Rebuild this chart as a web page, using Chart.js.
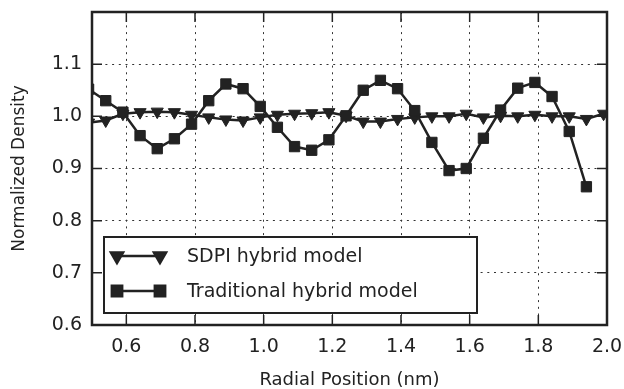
<!DOCTYPE html>
<html>
<head>
<meta charset="utf-8">
<script src="https://cdn.jsdelivr.net/npm/chart.js@4/dist/chart.umd.min.js"></script>
<style>
  html, body { margin: 0; padding: 0; background: #fff; }
  #wrap { width: 624px; height: 389px; }
</style>
</head>
<body>
<div id="wrap"><canvas id="myChart" width="624" height="389"></canvas></div>
<script>
// radial positions (nm), same grid for both curves
var positions = [0.49, 0.54, 0.59, 0.64, 0.69, 0.74, 0.79, 0.84, 0.89, 0.94,
  0.99, 1.04, 1.09, 1.14, 1.19, 1.24, 1.29, 1.34, 1.39, 1.44,
  1.49, 1.54, 1.59, 1.64, 1.69, 1.74, 1.79, 1.84, 1.89, 1.94, 1.99];

// SDPI hybrid model (triangles)
var sdpiDensity = [0.988, 0.992, 1.005, 1.008, 1.009, 1.008, 1.003, 0.998, 0.994, 0.992,
  0.998, 1.003, 1.005, 1.006, 1.008, 1.001, 0.990, 0.990, 0.995, 0.998,
  1.000, 1.000, 1.005, 0.998, 1.001, 1.000, 1.003, 1.000, 1.000, 0.995, 1.005];

// traditional hybrid model (squares), stops at 1.94
var traditionalDensity = [1.052, 1.030, 1.008, 0.963, 0.938, 0.957, 0.985, 1.030, 1.062, 1.053,
  1.019, 0.979, 0.942, 0.935, 0.955, 1.001, 1.050, 1.069, 1.053, 1.011,
  0.950, 0.896, 0.900, 0.958, 1.012, 1.054, 1.065, 1.038, 0.971, 0.865];

var seriesNames = ["SDPI hybrid model", "Traditional hybrid model"];

// tick values
var xTicks = [0.6, 0.8, 1.0, 1.2, 1.4, 1.6, 1.8, 2.0];
var yTicks = [0.6, 0.7, 0.8, 0.9, 1.0, 1.1];

var ink = "#222222";
var fontFamily = "'DejaVu Sans', sans-serif";

function toPoints(ys) {
  return ys.map(function (y, i) {
    return { x: positions[i], y: y };
  });
}

// keep the plot box where the reference has it
function noLabelPadding(scale) {
  scale.paddingLeft = 0;
  scale.paddingRight = 0;
  scale.paddingTop = 0;
  scale.paddingBottom = 0;
}

// frame, inward tick marks and a matplotlib style legend
var framePlugin = {
  id: "frame",
  afterDraw: function (chart) {
    var ctx = chart.ctx;
    var a = chart.chartArea;
    var xs = chart.scales.x;
    var ys = chart.scales.y;
    ctx.save();

    // inward ticks
    ctx.strokeStyle = ink;
    ctx.lineWidth = 1.5;
    ctx.beginPath();
    xTicks.forEach(function (v) {
      var px = xs.getPixelForValue(v);
      ctx.moveTo(px, a.bottom);
      ctx.lineTo(px, a.bottom - 10);
      ctx.moveTo(px, a.top);
      ctx.lineTo(px, a.top + 10);
    });
    yTicks.forEach(function (v) {
      var py = ys.getPixelForValue(v);
      ctx.moveTo(a.left, py);
      ctx.lineTo(a.left + 10, py);
      ctx.moveTo(a.right, py);
      ctx.lineTo(a.right - 10, py);
    });
    ctx.stroke();

    // frame
    ctx.lineWidth = 2.5;
    ctx.strokeRect(a.left, a.top, a.right - a.left, a.bottom - a.top);

    // legend box
    var box = { x: 104, y: 237, w: 373, h: 76 };
    ctx.fillStyle = "#ffffff";
    ctx.fillRect(box.x, box.y, box.w, box.h);
    ctx.lineWidth = 2;
    ctx.strokeStyle = ink;
    ctx.strokeRect(box.x, box.y, box.w, box.h);

    ctx.font = "19px " + fontFamily;
    ctx.textBaseline = "middle";
    ctx.textAlign = "left";
    chart.data.datasets.forEach(function (ds, i) {
      var cy = box.y + 19 + i * 35;
      var x1 = box.x + 13, x2 = box.x + 56;
      ctx.strokeStyle = ink;
      ctx.lineWidth = 2.5;
      ctx.beginPath();
      ctx.moveTo(x1, cy);
      ctx.lineTo(x2, cy);
      ctx.stroke();
      ctx.fillStyle = ink;
      [x1, x2].forEach(function (mx) {
        Chart.helpers.drawPoint(ctx, {
          pointStyle: ds.pointStyle,
          rotation: ds.pointRotation || 0,
          radius: ds.pointRadius,
          borderWidth: 1
        }, mx, cy);
        ctx.fill();
      });
      ctx.fillStyle = ink;
      ctx.fillText(ds.label, box.x + 83, cy + 1);
    });
    ctx.restore();
  }
};

var ctx = document.getElementById("myChart").getContext("2d");
var myChart = new Chart(ctx, {
  type: "line",
  data: {
    datasets: [
      {
        label: seriesNames[0],
        data: toPoints(sdpiDensity),
        borderColor: ink,
        backgroundColor: ink,
        borderWidth: 2.5,
        pointStyle: "triangle",
        pointRotation: 180,
        pointRadius: 7,
        pointBorderWidth: 1,
        pointBackgroundColor: ink,
        pointBorderColor: ink,
        tension: 0,
        clip: 0,
        order: 1
      },
      {
        label: seriesNames[1],
        data: toPoints(traditionalDensity),
        borderColor: ink,
        backgroundColor: ink,
        borderWidth: 2.5,
        pointStyle: "rect",
        pointRadius: 7.3,
        pointBorderWidth: 1,
        pointBackgroundColor: ink,
        pointBorderColor: ink,
        tension: 0,
        clip: 0,
        order: 0
      }
    ]
  },
  options: {
    responsive: false,
    animation: false,
    devicePixelRatio: 1,
    layout: { padding: { top: 12, right: 17, left: 0, bottom: 0 } },
    plugins: {
      legend: { display: false },
      tooltip: { enabled: false }
    },
    scales: {
      x: {
        type: "linear",
        min: 0.5,
        max: 2.0,
        afterBuildTicks: function (scale) {
          scale.ticks = xTicks.map(function (v) { return { value: v }; });
        },
        afterFit: function (scale) {
          scale.height = 64;
          noLabelPadding(scale);
        },
        border: { display: false, dash: [2, 4.7] },
        grid: { color: "#333333", lineWidth: 1, drawTicks: false },
        ticks: {
          autoSkip: false,
          maxRotation: 0,
          padding: 11,
          color: ink,
          font: { family: fontFamily, size: 19 },
          callback: function (v) { return v.toFixed(1); }
        },
        title: {
          display: true,
          text: "Radial Position (nm)",
          color: ink,
          font: { family: fontFamily, size: 18 },
          padding: { top: 0, bottom: -2 }
        }
      },
      y: {
        type: "linear",
        min: 0.6,
        max: 1.2,
        afterBuildTicks: function (scale) {
          scale.ticks = yTicks.map(function (v) { return { value: v }; });
        },
        afterFit: function (scale) {
          scale.width = 92;
          noLabelPadding(scale);
        },
        border: { display: false, dash: [2, 4.7] },
        grid: { color: "#333333", lineWidth: 1, drawTicks: false },
        ticks: {
          autoSkip: false,
          padding: 10,
          color: ink,
          font: { family: fontFamily, size: 19 },
          callback: function (v) { return v.toFixed(1); }
        },
        title: {
          display: true,
          text: "Normalized Density",
          color: ink,
          font: { family: fontFamily, size: 17 },
          padding: { top: 9, bottom: 0 }
        }
      }
    }
  },
  plugins: [framePlugin]
});
</script>
</body>
</html>
